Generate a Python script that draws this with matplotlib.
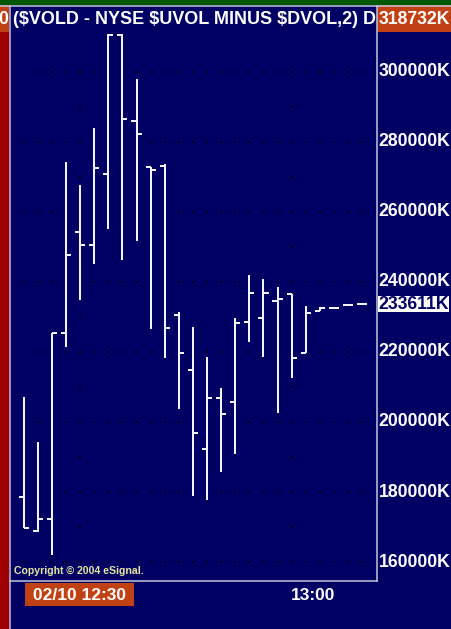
import matplotlib
matplotlib.use('Agg')
import matplotlib.pyplot as plt
from matplotlib.patches import Rectangle
from matplotlib.lines import Line2D
import numpy as np

plt.rcParams['font.family'] = ['Liberation Sans', 'DejaVu Sans']

# ---------------- data (values in K) ----------------
times = ['12:22', '12:24', '12:26', '12:28', '12:30', '12:32', '12:34', '12:36',
         '12:38', '12:40', '12:42', '12:44', '12:46', '12:48', '12:50', '12:52',
         '12:54', '12:56', '12:58', '13:00', '13:02', '13:04', '13:06', '13:08', '13:10']
opens = [178600, 168900, 172330, 225390, 254210, 250500, 270760, 310400,
         285880, 272750, 273040, 230530, 214840, 192300, 206850, 205710,
         228530, 229670, 234520, 236520, 219690, 231670, 232530, 233380, 233670]
highs = [207140, 194300, 225390, 274180, 267620, 283880, 310700, 310700,
         297860, 272750, 273610, 231390, 227110, 218550, 209700, 229670,
         241940, 240800, 238520, 236520, 233100, 232810, 232810, 233670, 233950]
lows = [169760, 168620, 162060, 221400, 234810, 245080, 255070, 246220,
        251640, 226540, 218260, 203710, 178890, 177750, 185740, 190870,
        222830, 218550, 202570, 212560, 219690, 231670, 232240, 233100, 233380]
closes = [169760, 172330, 225390, 247650, 250500, 272470, 310400, 286450,
          282170, 271900, 226820, 219690, 196860, 206850, 202290, 228250,
          236810, 236810, 235090, 218260, 231100, 232530, 232530, 233380, 233611]
ytick_vals = [160000, 180000, 200000, 220000, 240000, 260000, 280000, 300000]
ytick_labels = [f'{v}K' for v in ytick_vals]
xtick_times = ['12:30', '13:00']
xtick_labels = ['02/10 12:30', '13:00']
last_value = 233611
top_value = 318732
title = '($VOLD - NYSE $UVOL MINUS $DVOL,2) D'
copyright_txt = 'Copyright \u00a9 2004 eSignal.'

# ---------------- layout ----------------
W, H, DPI = 451, 629, 100
NAVY = '#000064'
ORANGE = '#bf4114'
GREEN = '#005800'
DARKRED = '#a00000'
BORDER = '#c8c8dc'
BAR = '#f2f2ff'

fig = plt.figure(figsize=(W / DPI, H / DPI), dpi=DPI)
fig.patch.set_facecolor(NAVY)

def fx(x):
    return x / W

def fy(y):
    return 1 - y / H

# pixel mapping for the value axis
Y_REF_PX, Y_REF_VAL, PX_PER_STEP, STEP = 71.5, 300000, 70.1, 20000
AX_L, AX_R, AX_T, AX_B = 11, 377, 5, 581

def val_to_py(v):
    return Y_REF_PX + (Y_REF_VAL - v) * PX_PER_STEP / STEP

ax = fig.add_axes([fx(AX_L), fy(AX_B), (AX_R - AX_L) / W, (AX_B - AX_T) / H])
ax.set_facecolor(NAVY)
ax.set_ylim(Y_REF_VAL - (AX_B - Y_REF_PX) * STEP / PX_PER_STEP,
            Y_REF_VAL + (Y_REF_PX - AX_T) * STEP / PX_PER_STEP)
ax.set_xlim(-0.9, len(times) + 0.05)
for s in ax.spines.values():
    s.set_visible(False)
ax.set_xticks([])
ax.set_yticks([])

idx = np.arange(len(times))
tick_idx = [times.index(t) for t in xtick_times]

# dotted grid (dots at bar positions on horizontal levels, every half step on verticals)
gx, gy = np.meshgrid(idx, ytick_vals)
ax.scatter(gx.ravel(), gy.ravel(), s=1.2, marker='s', color='#000010', lw=0, zorder=1)
vy = np.arange(ytick_vals[0], ytick_vals[-1] + 1, STEP // 2)
vx, vyy = np.meshgrid(tick_idx, vy)
ax.scatter(vx.ravel(), vyy.ravel(), s=1.2, marker='s', color='#000010', lw=0, zorder=1)

# OHLC bars
lw = 2 * 72 / DPI
tl = 0.36
ax.vlines(idx, lows, highs, color=BAR, lw=lw, zorder=3)
ax.hlines(opens, idx - tl, idx, color=BAR, lw=lw, zorder=3)
ax.hlines(closes, idx, idx + tl, color=BAR, lw=lw, zorder=3)

# ---------------- decorations ----------------
def rect(x0, y0, x1, y1, color, z=4):
    fig.patches.append(Rectangle((fx(x0), fy(y1)), (x1 - x0) / W, (y1 - y0) / H,
                                 transform=fig.transFigure, facecolor=color,
                                 edgecolor='none', zorder=z))

def line(x0, y0, x1, y1, color=BORDER, w=1.5, z=6):
    fig.lines.append(Line2D([fx(x0), fx(x1)], [fy(y0), fy(y1)], transform=fig.transFigure,
                            color=color, lw=w * 72 / DPI, zorder=z))

FS = 12.7
# title
fig.text(fx(13), fy(20), title, color='white', fontsize=13.0, fontweight='bold',
         ha='left', va='center', zorder=3)

# top green strip and left strip
rect(0, 0, W, 4.5, GREEN, z=7)
rect(0, 4.5, 9, H, DARKRED, z=4)
rect(0, 4.5, 9, 32, ORANGE, z=4.5)
fig.text(fx(8.5), fy(19), '0', color='white', fontsize=FS, fontweight='bold',
         ha='right', va='center', zorder=5)

# top right value box
rect(377, 4.5, W, 32, ORANGE, z=4)
fig.text(fx(378.5), fy(19), f'{top_value}K', color='white', fontsize=FS,
         fontweight='bold', ha='left', va='center', zorder=5)

# borders
line(0, 5.5, W, 5.5)
line(10, 5.5, 10, H)
line(377, 5.5, 377, 581)
line(10, 581, 377, 581)

# right axis labels
for v, lab in zip(ytick_vals, ytick_labels):
    fig.text(fx(378.5), fy(val_to_py(v)), lab, color='white', fontsize=FS,
             fontweight='bold', ha='left', va='center', zorder=5)

# last value box
yl = val_to_py(last_value)
rect(377.5, yl - 8.5, 449, yl + 7.5, 'white', z=6)
fig.text(fx(378.5), fy(yl), f'{last_value}K', color=NAVY, fontsize=FS,
         fontweight='bold', ha='left', va='center', zorder=7)

# time labels
rect(25, 583, 134, 606, ORANGE, z=4)
fig.text(fx(79.5), fy(595), xtick_labels[0], color='white', fontsize=12.5,
         fontweight='bold', ha='center', va='center', zorder=5)
fig.text(fx(313), fy(595), xtick_labels[1], color='white', fontsize=12.5,
         fontweight='bold', ha='center', va='center', zorder=5)

# copyright
fig.text(fx(14), fy(571), copyright_txt, color='#e6e6a0', fontsize=7.6,
         fontweight='bold', ha='left', va='center', zorder=5)

fig.savefig('out.png', dpi=DPI, facecolor=NAVY)
